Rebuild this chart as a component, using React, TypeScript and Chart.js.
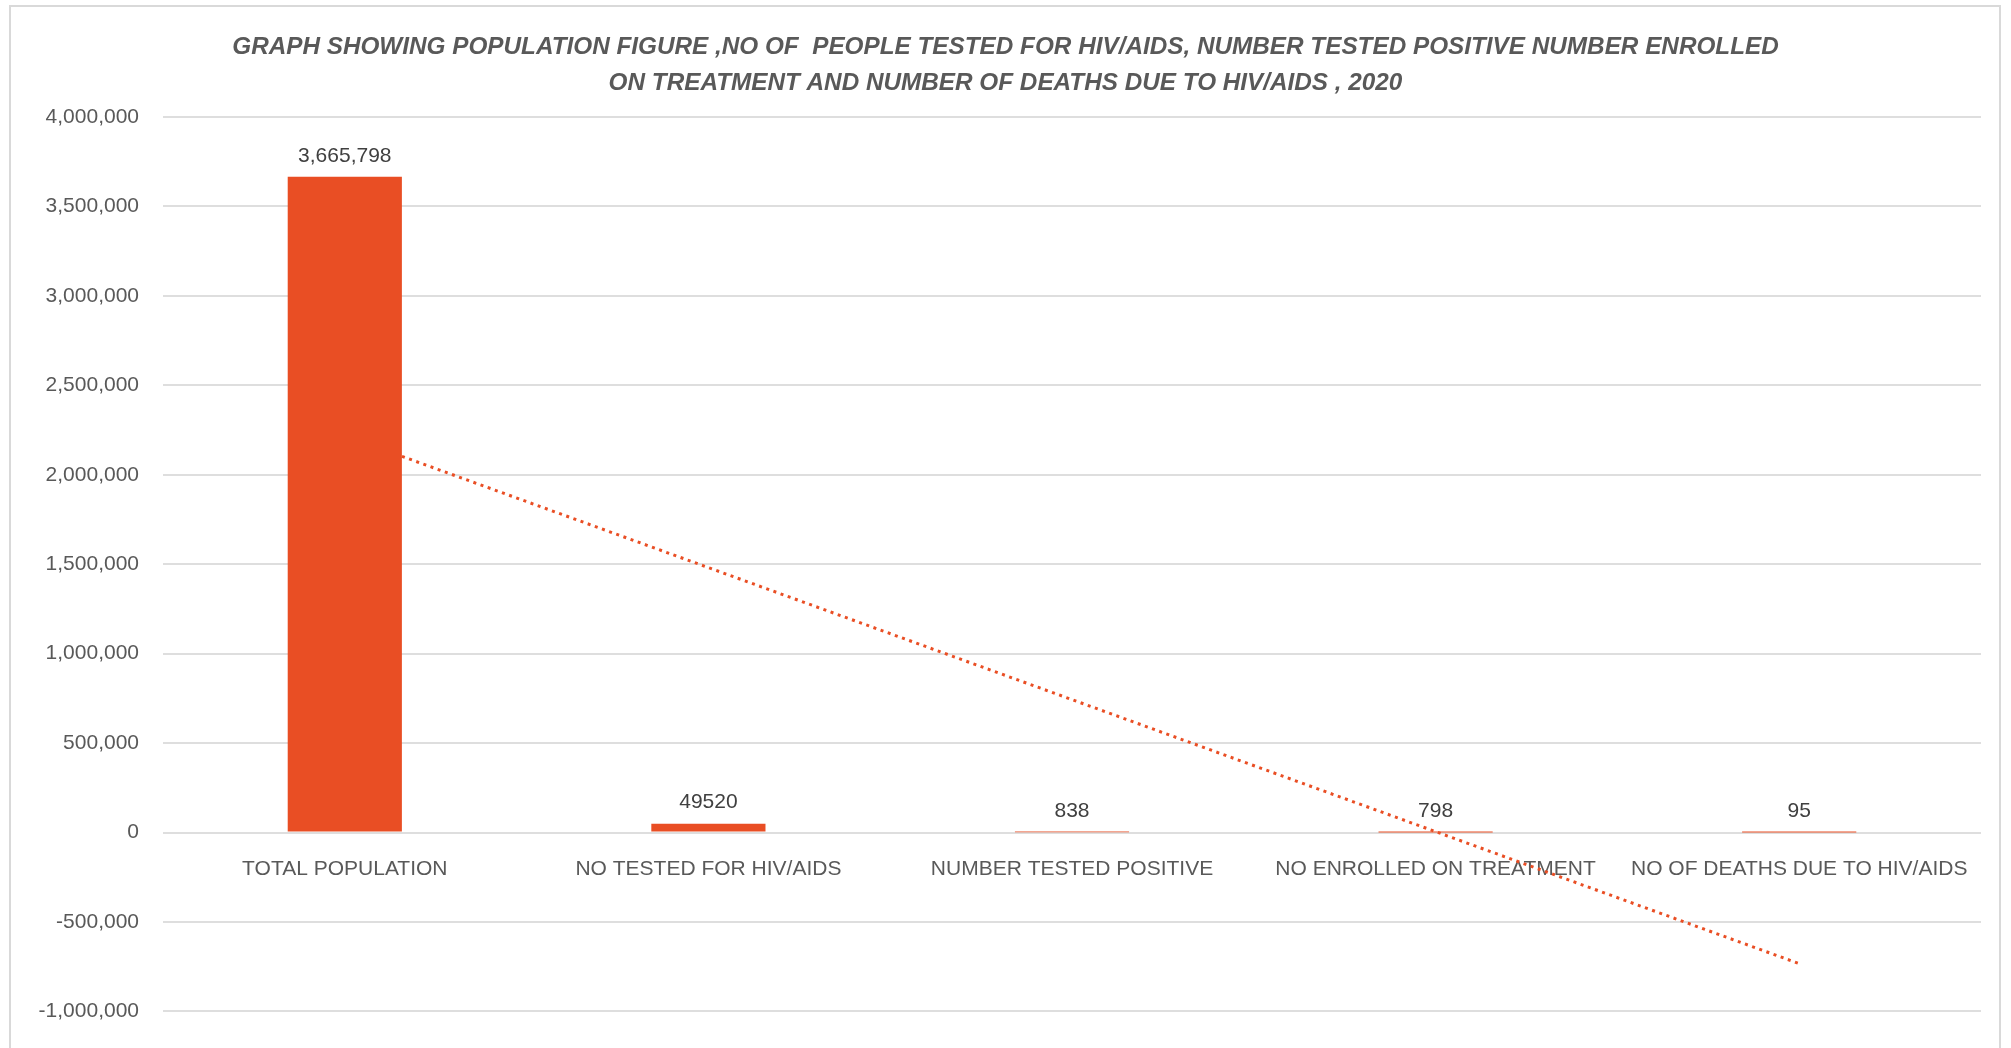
import React, { useEffect, useRef } from 'react';
import { Chart, registerables } from 'chart.js';

Chart.register(...registerables);

const categories = [
  'TOTAL POPULATION',
  'NO TESTED FOR HIV/AIDS',
  'NUMBER TESTED POSITIVE',
  'NO ENROLLED ON TREATMENT',
  'NO OF DEATHS DUE TO HIV/AIDS',
];
const values = [3665798, 49520, 838, 798, 95];
const valueLabels = ['3,665,798', '49520', '838', '798', '95'];
// Excel linear trendline, read at its two ends (first and last category)
const trendValues: (number | null)[] = [2219000, null, null, null, -733000];
const titleLines = [
  'GRAPH SHOWING POPULATION FIGURE ,NO OF  PEOPLE TESTED FOR HIV/AIDS, NUMBER TESTED POSITIVE NUMBER ENROLLED',
  'ON TREATMENT AND NUMBER OF DEATHS DUE TO HIV/AIDS , 2020',
];
const yMin = -1000000;
const yMax = 4000000;
const yStep = 500000;

const BAR_COLOR = '#E94E24';
const TEXT_COLOR = '#595959';
const LABEL_COLOR = '#404040';
const GRID_COLOR = '#DEDEDE';
const FONT = '"Liberation Sans", Arial, sans-serif';

const valueLabelPlugin = {
  id: 'valueLabels',
  afterDatasetsDraw(chart: any) {
    const meta = chart.getDatasetMeta(0);
    const ctx = chart.ctx;
    ctx.save();
    ctx.font = `21px ${FONT}`;
    ctx.fillStyle = LABEL_COLOR;
    ctx.textAlign = 'center';
    ctx.textBaseline = 'middle';
    meta.data.forEach((el: any, i: number) => {
      const { x, y } = el.getProps(['x', 'y'], true);
      ctx.fillText(valueLabels[i], x, y - 21);
    });
    ctx.restore();
  },
};

export default function App() {
  const canvasRef = useRef<HTMLCanvasElement | null>(null);

  useEffect(() => {
    document.body.style.margin = '0';
    document.body.style.overflow = 'hidden';
    const canvas = canvasRef.current;
    if (!canvas) return;
    const chart = new Chart(canvas, {
      type: 'bar',
      data: {
        labels: categories,
        datasets: [
          {
            type: 'bar',
            data: values,
            backgroundColor: BAR_COLOR,
            borderWidth: 0,
            inflateAmount: 0,
            categoryPercentage: 1,
            barPercentage: 0.314,
            order: 0,
          } as any,
          {
            type: 'line',
            data: trendValues,
            borderColor: BAR_COLOR,
            borderWidth: 3,
            borderDash: [3, 4.6],
            pointRadius: 0,
            spanGaps: true,
            fill: false,
            order: 1,
          } as any,
        ],
      },
      options: {
        responsive: false,
        animation: false,
        devicePixelRatio: 1,
        layout: { padding: { left: 30, right: 30, top: 0, bottom: 31 } },
        plugins: {
          legend: { display: false },
          tooltip: { enabled: false },
          title: {
            display: true,
            text: titleLines,
            color: TEXT_COLOR,
            font: { family: FONT, size: 24.3, weight: 'bold', style: 'italic', lineHeight: 36 / 24.3 },
            padding: { top: 29, bottom: 16 },
          },
        },
        scales: {
          x: {
            position: { y: 0 } as any,
            grid: { display: false },
            border: { display: false },
            ticks: {
              color: TEXT_COLOR,
              font: { family: FONT, size: 21 },
              padding: 16,
              maxRotation: 0,
              autoSkip: false,
            },
            afterFit(scale: any) {
              scale.height = 0;
            },
          },
          y: {
            min: yMin,
            max: yMax,
            grid: { color: GRID_COLOR, lineWidth: 2, drawTicks: false },
            border: { display: false },
            ticks: {
              stepSize: yStep,
              color: TEXT_COLOR,
              font: { family: FONT, size: 21 },
              padding: 24,
              callback: (v: any) => Number(v).toLocaleString('en-US'),
            },
            afterFit(scale: any) {
              scale.width = 133;
            },
          },
        },
      },
      plugins: [valueLabelPlugin],
    });
    return () => chart.destroy();
  }, []);

  return (
    <div style={{ position: 'absolute', left: 0, top: 0, width: 2011, height: 1048, overflow: 'hidden', background: '#fff' }}>
      <div
        style={{
          position: 'absolute',
          left: 9,
          top: 5,
          width: 1992,
          height: 1100,
          border: '2px solid #D9D9D9',
          boxSizing: 'border-box',
        }}
      />
      <canvas ref={canvasRef} width={2011} height={1048} style={{ position: 'absolute', left: 0, top: 0, width: 2011, height: 1048 }} />
    </div>
  );
}
